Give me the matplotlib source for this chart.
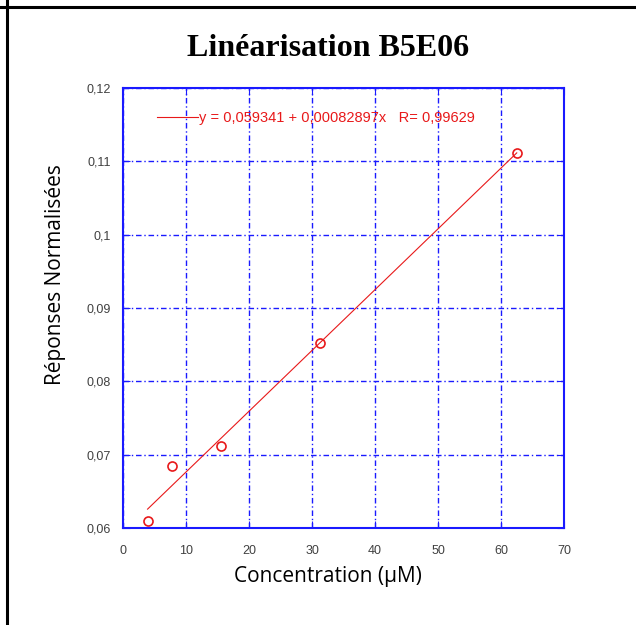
import matplotlib.pyplot as plt
import numpy as np
from matplotlib.ticker import FuncFormatter, MultipleLocator

# Données (concentrations en µM, réponses normalisées)
concentration = [3.9, 7.8, 15.6, 31.25, 62.5]
reponse = [0.06095, 0.06845, 0.07118, 0.08523, 0.11114]

# Régression linéaire affichée
a0 = 0.059341
a1 = 0.00082897
r = 0.99629

fig = plt.figure(figsize=(6.36, 6.25), dpi=100)
ax = fig.add_axes([0.1934, 0.1552, 0.6934, 0.704])

bleu = '#1a1aff'
rouge = '#e8191a'

xfit = np.array([min(concentration), max(concentration)])
ax.plot(xfit, a0 + a1 * xfit, color=rouge, lw=0.8,
        label='y = 0,059341 + 0,00082897x   R= 0,99629')
ax.plot(concentration, reponse, 'o', mfc='none', mec=rouge, ms=6.5, mew=1.2)

ax.set_xlim(0, 70)
ax.set_ylim(0.06, 0.12)
ax.xaxis.set_major_locator(MultipleLocator(10))
ax.yaxis.set_major_locator(MultipleLocator(0.01))

def fmt_x(v, pos):
    return '%d' % round(v)

def fmt_y(v, pos):
    s = ('%.2f' % v).rstrip('0').replace('.', ',')
    return s

ax.xaxis.set_major_formatter(FuncFormatter(fmt_x))
ax.yaxis.set_major_formatter(FuncFormatter(fmt_y))

ax.grid(True, color=bleu, ls=(0, (4, 2, 1, 2)), lw=1.0)
for s in ax.spines.values():
    s.set_color(bleu)
    s.set_linewidth(1.5)
ax.tick_params(direction='in', length=5, color=bleu, top=True, right=True,
               labelsize=9, labelcolor='#404040')
ax.tick_params(axis='y', pad=9)
ax.tick_params(axis='x', pad=12)
for lab in ax.get_xticklabels() + ax.get_yticklabels():
    lab.set_family('Liberation Sans')

leg = ax.legend(loc='center left', bbox_to_anchor=(0.077, 0.932), frameon=False,
                borderpad=0, borderaxespad=0, handlelength=2.8, handletextpad=0.1,
                prop={'family': 'Liberation Sans', 'size': 10.5})
for t in leg.get_texts():
    t.set_color(rouge)

ax.set_xlabel('Concentration (µM)', family='Open Sans', fontsize=15, va='center')
ax.set_ylabel('Réponses Normalisées', family='Open Sans', fontsize=15,
              va='center', ha='center')
ax.xaxis.set_label_coords(0.465, -0.111)
ax.yaxis.set_label_coords(-0.152, 0.577)

fig.text(0.516, 0.923, 'Linéarisation B5E06', ha='center', va='center',
         family='Liberation Serif', weight='bold', fontsize=23)

# bordures du tableau
fig.add_artist(plt.Line2D([0.011, 0.011], [0, 1], color='black', lw=2.2))
fig.add_artist(plt.Line2D([0, 1], [0.9888, 0.9888], color='black', lw=2.2))

fig.savefig('out.png', dpi=100)
